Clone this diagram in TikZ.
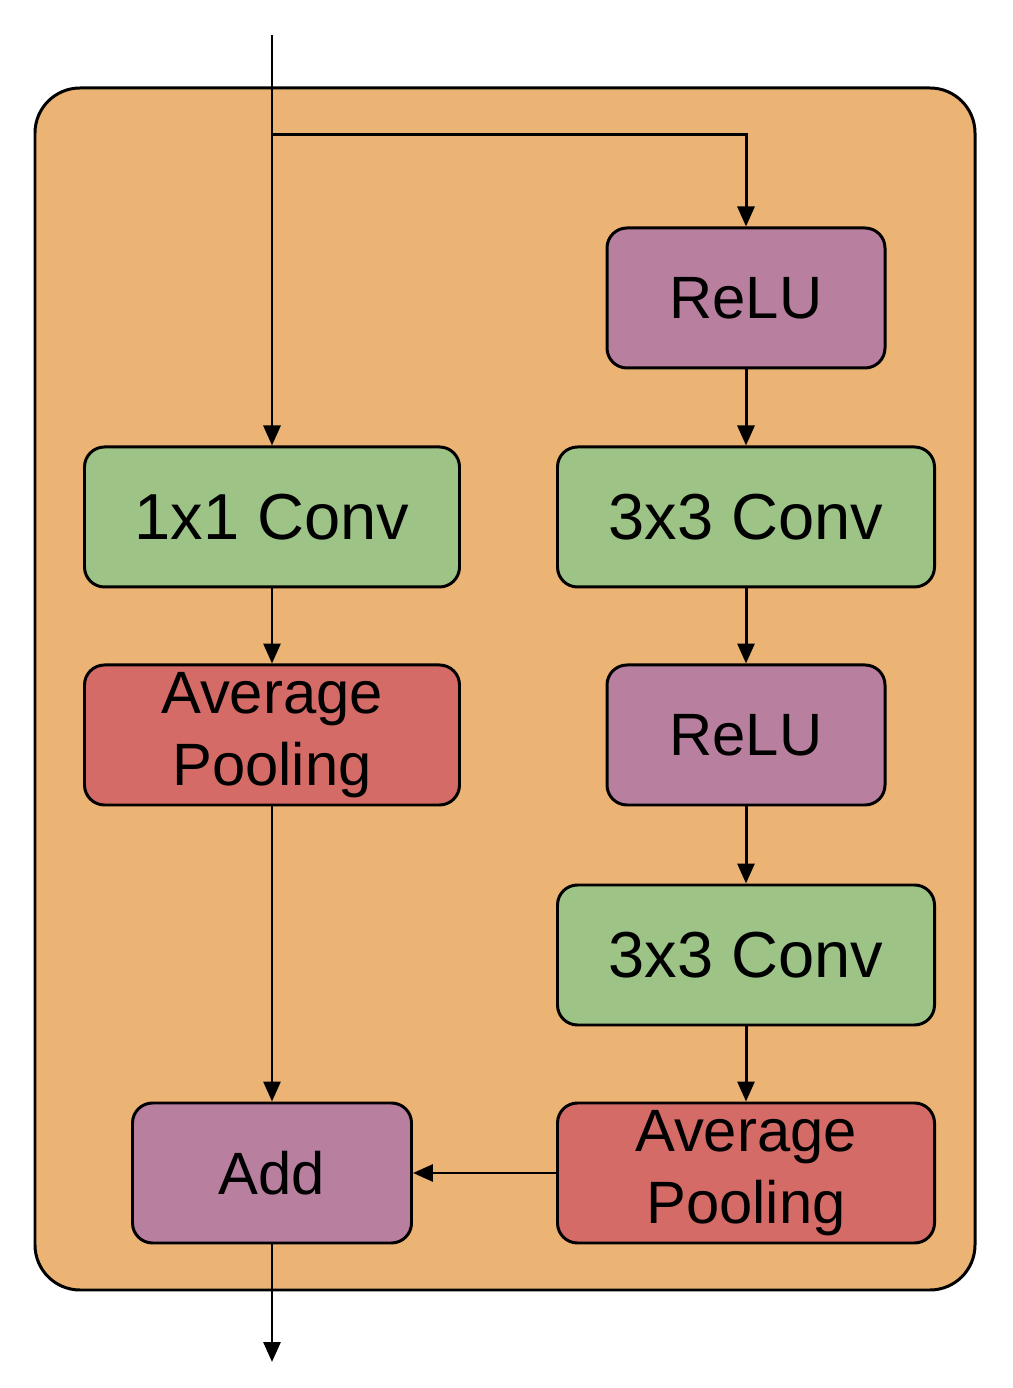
\documentclass[tikz,border=0pt]{standalone}
\usepackage{fontspec}
\setmainfont{Liberation Sans}
\usetikzlibrary{positioning,arrows.meta,calc}

\definecolor{blockbg}{HTML}{EBB374}
\definecolor{convgreen}{HTML}{9DC486}
\definecolor{poolred}{HTML}{D46B67}
\definecolor{relupurple}{HTML}{B87F9F}

\begin{document}
\begin{tikzpicture}[
    x=1cm, y=1cm,
    boxstyle/.style={rectangle, draw, line width=0.85pt, rounded corners=0.2cm, minimum height=1.4cm, align=center, font=\fontsize{17}{20.5}\selectfont},
    convbox/.style={boxstyle, fill=convgreen, minimum width=3.77cm, font=\fontsize{18.5}{22}\selectfont},
    poolbox/.style={boxstyle, fill=poolred, minimum width=3.77cm, inner ysep=0pt},
    relubox/.style={boxstyle, fill=relupurple, minimum width=2.78cm},
    arrow/.style={-{Triangle[length=0.2cm, width=0.17cm]}, line width=0.85pt}
]
\useasboundingbox (0,0) rectangle (10.12,13.88);

% Outer block
\draw[line width=0.85pt, fill=blockbg, rounded corners=0.45cm] (0.35,13.00) rectangle (9.75,0.98);

% Input, split point and output
\coordinate (in) at (2.72,13.53);
\coordinate (split) at (2.72,12.53);
\coordinate (out) at (2.72,0.26);

% Right branch
\node[relubox] (relu1) at (7.46,10.90) {ReLU};
\node[convbox] (conv3a) at (7.46,8.71) {3x3 Conv};
\node[relubox] (relu2) at (7.46,6.53) {ReLU};
\node[convbox] (conv3b) at (7.46,4.33) {3x3 Conv};
\node[poolbox] (poolR) at (7.46,2.15) {Average\\Pooling};

% Left branch
\node[convbox, minimum width=3.75cm] (conv1) at (2.72,8.71) {1x1 Conv};
\node[poolbox, minimum width=3.75cm] (poolL) at (2.72,6.53) {Average\\Pooling};
\node[relubox, minimum width=2.79cm] (add) at (2.72,2.15) {Add};

% Connections
\draw[arrow] (in) -- (conv1);
\draw[arrow] (split) -| (relu1);
\draw[arrow] (relu1) -- (conv3a);
\draw[arrow] (conv3a) -- (relu2);
\draw[arrow] (relu2) -- (conv3b);
\draw[arrow] (conv3b) -- (poolR);
\draw[arrow] (conv1) -- (poolL);
\draw[arrow] (poolL) -- (add);
\draw[arrow] (poolR) -- (add);
\draw[arrow] (add) -- (out);

\end{tikzpicture}
\end{document}
